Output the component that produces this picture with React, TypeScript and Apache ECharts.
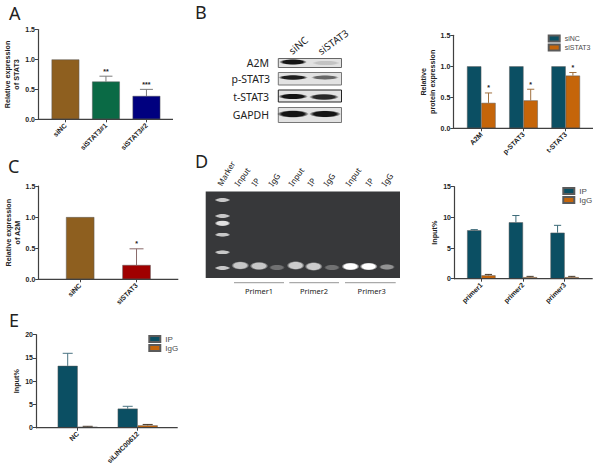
import React, { useEffect, useRef } from "react";
import * as echarts from "echarts";

const catsA = ["siNC", "siSTAT3#1", "siSTAT3#2"];
const valsA = [1, 0.63, 0.39];
const topsA = [1, 0.72, 0.5];
const starsA = ["", "**", "***"];
const colorsA = ["#8e5f1f", "#0a6a45", "#00007f"];

const catsB = ["A2M", "p-STAT3", "t-STAT3"];
const siNC = [1, 1, 1];
const siSTAT3 = [0.41, 0.45, 0.85];
const siSTAT3Top = [0.57, 0.63, 0.9];
const starsB = ["*", "*", "*"];

const catsC = ["siNC", "siSTAT3"];
const valsC = [1, 0.23];
const topsC = [1, 0.49];
const starsC = ["", "*"];
const colorsC = ["#8e5f1f", "#a00000"];

const catsD = ["primer1", "primer2", "primer3"];
const ipD = [7.9, 9.2, 7.5];
const ipDTop = [8.0, 10.3, 8.7];
const igD = [0.55, 0.25, 0.25];
const igDTop = [0.7, 0.38, 0.38];

const catsE = ["NC", "siLINC00612"];
const ipE = [13.3, 4.1];
const ipETop = [16, 4.6];
const igE = [0.2, 0.5];
const igETop = [0.3, 0.7];

const TEAL = "#0b4f63";
const ORANGE = "#c5650a";
const AXIS = "#404040";
const ARIAL = "Liberation Sans";
const HUMAN = "Noto Sans";

const errorSeries = (idx: number, vals: number[], tops: number[], stars: string[], offset: number, cap: number, color: string) => ({
  type: "custom",
  xAxisIndex: idx,
  yAxisIndex: idx,
  silent: true,
  z: 1,
  clip: false,
  encode: { x: 0, y: 1 },
  data: tops.map((t, i) => [i, t, vals[i]]),
  renderItem: (_: any, api: any) => {
    const i = api.value(0);
    const top = api.coord([i, api.value(1)]);
    const base = api.coord([i, api.value(2)]);
    const x = top[0] + offset;
    const children: any[] = [];
    if (api.value(1) > api.value(2)) {
      const s = { stroke: color, lineWidth: 1, fill: "none" };
      children.push({ type: "line", shape: { x1: x, y1: base[1], x2: x, y2: top[1] }, style: s });
      children.push({ type: "line", shape: { x1: x - cap, y1: top[1], x2: x + cap, y2: top[1] }, style: s });
    }
    const star = stars[i];
    if (star) {
      children.push({
        type: "text",
        style: { text: star, x, y: top[1] - 5, align: "center", verticalAlign: "middle", font: `bold 7px "${ARIAL}"`, fill: "#222" },
      });
    }
    return { type: "group", children };
  },
});

const grid = (l: number, r: number, t: number, b: number) => ({ left: l, top: t, width: r - l, height: b - t });

const xAxis = (idx: number, cats: string[]) => ({
  type: "category",
  gridIndex: idx,
  data: cats,
  axisLine: { show: false },
  axisTick: { show: true, alignWithLabel: true, length: 3, lineStyle: { color: AXIS, width: 1 } },
  axisLabel: { rotate: 45, interval: 0, margin: 5, fontFamily: ARIAL, fontWeight: "bold", fontSize: 7, color: "#222" },
});

const yAxis = (idx: number, max: number, interval: number, digits: number, name: string, offset: number, gap: number) => ({
  type: "value",
  gridIndex: idx,
  min: 0,
  max,
  interval,
  offset,
  name,
  nameLocation: "middle",
  nameRotate: 90,
  nameGap: gap,
  nameTextStyle: { fontFamily: ARIAL, fontWeight: "bold", fontSize: 7.2, color: "#222", lineHeight: 9 },
  splitLine: { show: false },
  axisLine: { show: true, lineStyle: { color: AXIS, width: 1.2 } },
  axisTick: { show: true, length: 3, lineStyle: { color: AXIS, width: 1 } },
  axisLabel: { margin: 3, fontFamily: ARIAL, fontWeight: "bold", fontSize: 7, color: "#222", formatter: (v: number) => v.toFixed(digits) },
});

const barItem = (color: string) => ({ color, borderColor: "#5a5a5a", borderWidth: 0.5 });

const singleBar = (idx: number, vals: number[], colors: string[], width: number) => ({
  type: "bar",
  xAxisIndex: idx,
  yAxisIndex: idx,
  barWidth: width,
  data: vals.map((v, i) => ({ value: v, itemStyle: barItem(colors[i]) })),
  z: 2,
});

const groupBar = (idx: number, name: string, vals: number[], color: string, width: number) => ({
  type: "bar",
  name,
  xAxisIndex: idx,
  yAxisIndex: idx,
  barWidth: width,
  barGap: 0,
  data: vals,
  itemStyle: barItem(color),
  z: 2,
});

const legend = (left: number, top: number, names: string[], size: number) => ({
  left,
  top,
  orient: "vertical",
  itemWidth: 11,
  itemHeight: 6,
  itemGap: 1,
  padding: 0,
  icon: "rect",
  selectedMode: false,
  data: names.map((name) => ({ name, textStyle: { color: "#4a4a4a", fontFamily: ARIAL, fontSize: size } })),
  textStyle: { fontFamily: ARIAL, fontSize: size, color: "#4a4a4a", padding: [0, 0, 0, 0] },
});

const axisLineG = (x1: number, x2: number, y: number) => ({
  type: "line",
  shape: { x1, y1: y, x2, y2: y },
  style: { stroke: AXIS, lineWidth: 1.2 },
  z: 5,
});

const label = (text: string, x: number, y: number, size: number, extra: any = {}, rotDeg = 0) => ({
  type: "text",
  x,
  y,
  rotation: (rotDeg * Math.PI) / 180,
  style: { text, font: `${size}px "${HUMAN}"`, fill: "#222", align: "left", verticalAlign: "middle", ...extra },
  z: 6,
});

const soft = (cx: number, cy: number, rx: number, ry: number, color: string, op = 1) => ({
  type: "ellipse",
  shape: { cx, cy, rx, ry },
  style: {
    opacity: op,
    fill: {
      type: "radial",
      x: 0.5,
      y: 0.5,
      r: 0.5,
      colorStops: [
        { offset: 0, color },
        { offset: 0.7, color },
        { offset: 1, color: color.replace(/rgb\((.*)\)/, "rgba($1,0)") },
      ],
    },
  },
  z: 4,
});

const blot = (x1: number, x2: number, y1: number, y2: number, bands: any[], stroke = "#777") => [
  { type: "rect", shape: { x: x1, y: y1, width: x2 - x1, height: y2 - y1 }, style: { fill: "#e2e2e2", stroke, lineWidth: 1 }, z: 3 },
  ...bands.map((b) => soft(b[0], b[1], b[2], b[3], "rgb(20,20,20)", b[4])),
];

const W = "rgb(255,255,255)";

const graphics: any[] = [
  axisLineG(38, 173, 119.3),
  axisLineG(453.3, 593, 128.3),
  axisLineG(38.3, 178.3, 279.3),
  axisLineG(454, 592.7, 278.7),
  axisLineG(36, 177.7, 427.7),
  label("A", 9, 13, 18),
  label("B", 195, 12, 18),
  label("C", 8, 166, 18),
  label("D", 195, 161, 18),
  label("E", 9, 320, 18),
  label("siNC", 290, 52, 10, {}, 40),
  label("siSTAT3", 319, 52, 10, {}, 36),
  label("A2M", 269, 63, 10.5, { align: "right" }),
  label("p-STAT3", 270, 79, 10.5, { align: "right" }),
  label("t-STAT3", 269, 96.5, 10.5, { align: "right" }),
  label("GAPDH", 269, 115, 10.5, { align: "right" }),
  ...blot(278.3, 341.5, 58.5, 67.5, [
    [293, 62, 14, 3, 1],
    [326, 63, 14, 2.5, 0.15],
  ], "#666"),
  ...blot(278.3, 341.5, 72.5, 85, [
    [293, 77.5, 15, 2.6, 0.95],
    [325, 77.5, 14, 2.4, 0.6],
  ]),
  ...blot(278.3, 341.5, 90, 102, [
    [293, 96.5, 15, 3, 1],
    [324, 97, 15, 3.2, 0.9],
  ], "#222"),
  ...blot(278.3, 341.5, 107.5, 122.5, [
    [293, 114, 16, 3.8, 1],
    [325, 114, 16, 3.6, 1],
  ]),
  {
    type: "rect",
    shape: { x: 205.7, y: 191.5, width: 194.3, height: 86.5 },
    style: { fill: "#37383a" },
    z: 3,
  },
  ...[200, 216, 223.3, 234.7, 252.3, 268].map((y, i) => soft(222.5, y, 8, i === 2 ? 3 : 2.2, "rgb(225,225,225)", i === 2 ? 1 : 0.85)),
  soft(240.3, 265.5, 9, 4.2, "rgb(215,215,215)", 0.9),
  soft(259, 266, 9.3, 4.2, "rgb(215,215,215)", 0.9),
  soft(277, 267.5, 8, 3, "rgb(160,160,160)", 0.55),
  soft(295.7, 265.5, 9, 4.4, "rgb(220,220,220)", 0.9),
  soft(313.7, 266.5, 9, 4.4, "rgb(220,220,220)", 0.9),
  soft(332, 267.5, 8, 3, "rgb(160,160,160)", 0.55),
  soft(350.5, 266.5, 9, 4, W),
  soft(368.7, 266.5, 9, 4, W),
  soft(387, 267, 8, 3, "rgb(185,185,185)", 0.7),
  { type: "line", shape: { x1: 234, y1: 282.7, x2: 284, y2: 282.7 }, style: { stroke: "#aaa", lineWidth: 1.2 }, z: 5 },
  { type: "line", shape: { x1: 289.3, y1: 282.7, x2: 339, y2: 282.7 }, style: { stroke: "#aaa", lineWidth: 1.2 }, z: 5 },
  { type: "line", shape: { x1: 345, y1: 282.7, x2: 395.7, y2: 282.7 }, style: { stroke: "#aaa", lineWidth: 1.2 }, z: 5 },
  label("Primer1", 259, 291, 7.5, { align: "center" }),
  label("Primer2", 314, 291, 7.5, { align: "center" }),
  label("Primer3", 371.7, 291, 7.5, { align: "center" }),
  label("Marker", 219, 185, 8, {}, 60),
  ...[
    ["Input", 236],
    ["IP", 253],
    ["IgG", 270],
    ["Input", 290],
    ["IP", 309],
    ["IgG", 325],
    ["Input", 347],
    ["IP", 367],
    ["IgG", 383],
  ].map((d: any) => label(d[0], d[1], 185, 8, {}, 55)),
];

const option: any = {
  animation: false,
  backgroundColor: "#fff",
  grid: [
    grid(45.2, 166.7, 29.5, 119.3),
    grid(460.2, 586.8, 35.3, 128.3),
    grid(52, 164.7, 186, 279.3),
    grid(460.5, 585.5, 186.7, 278.7),
    grid(47.7, 167.7, 334.7, 427.7),
  ],
  xAxis: [xAxis(0, catsA), xAxis(1, catsB), xAxis(2, catsC), xAxis(3, catsD), xAxis(4, catsE)],
  yAxis: [
    yAxis(0, 1.5, 0.5, 1, "Relative expression\nof STAT3", 7.2, 14),
    yAxis(1, 1.5, 0.5, 1, "Relative\nprotein expression", 6.9, 15),
    yAxis(2, 1.5, 0.5, 1, "Relative expression\nof A2M", 13.7, 14),
    yAxis(3, 15, 5, 0, "Input%", 6.5, 13),
    yAxis(4, 20, 5, 0, "Input%", 11.7, 10),
  ],
  legend: [
    legend(547.7, 34.5, ["siNC", "siSTAT3"], 7),
    legend(562.3, 187, ["IP", "IgG"], 8),
    legend(148.3, 335, ["IP", "IgG"], 8),
  ],
  series: [
    singleBar(0, valsA, colorsA, 27.7),
    errorSeries(0, valsA, topsA, starsA, 0, 6.5, "#7b7b7b"),
    groupBar(1, "siNC", siNC, TEAL, 14.3),
    groupBar(1, "siSTAT3", siSTAT3, ORANGE, 14.3),
    errorSeries(1, siSTAT3, siSTAT3Top, starsB, 7.2, 3.6, "#a0703f"),
    singleBar(2, valsC, colorsC, 28.3),
    errorSeries(2, valsC, topsC, starsC, 0, 7, "#8a6a6a"),
    groupBar(3, "IP", ipD, TEAL, 14.2),
    groupBar(3, "IgG", igD, ORANGE, 14.2),
    errorSeries(3, ipD, ipDTop, ["", "", ""], -7.1, 3.6, "#3c6a78"),
    errorSeries(3, igD, igDTop, ["", "", ""], 7.1, 3.6, "#4a3a2a"),
    groupBar(4, "IP", ipE, TEAL, 20),
    groupBar(4, "IgG", igE, ORANGE, 20),
    errorSeries(4, ipE, ipETop, ["", ""], -10, 5, "#4a7482"),
    errorSeries(4, igE, igETop, ["", ""], 10, 5, "#4a3a2a"),
  ],
  graphic: graphics,
};

export default function App() {
  const ref = useRef<HTMLDivElement>(null);
  useEffect(() => {
    const chart = echarts.init(ref.current!, undefined, { renderer: "svg" });
    chart.setOption(option);
    return () => chart.dispose();
  }, []);
  return <div ref={ref} style={{ position: "absolute", left: 0, top: 0, width: 600, height: 472 }} />;
}
